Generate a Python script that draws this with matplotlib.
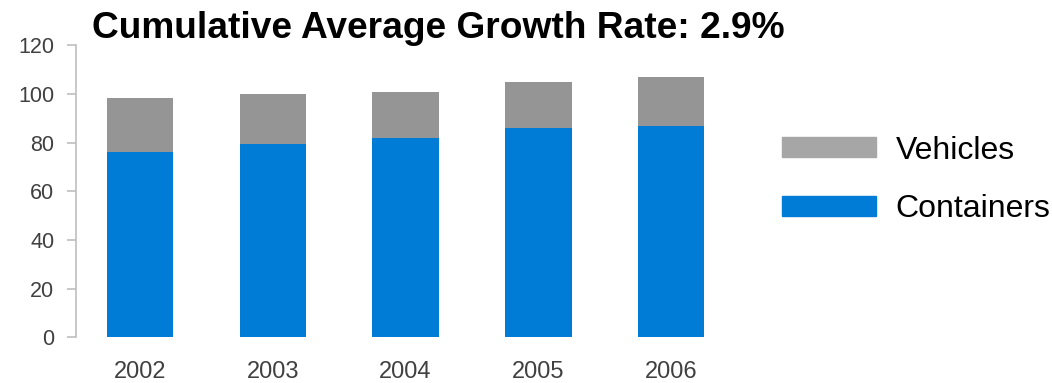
import matplotlib
matplotlib.use("Agg")
import matplotlib.pyplot as plt
from matplotlib.patches import Patch
import numpy as np

plt.rcParams['font.family'] = ['Liberation Sans', 'DejaVu Sans']

years = ['2002', '2003', '2004', '2005', '2006']
containers = [76.2, 79.5, 81.9, 86.0, 86.8]
vehicles = [22.0, 20.4, 18.8, 18.8, 19.9]

blue = '#007BD6'
gray_bar = '#959595'
gray_legend = '#A6A6A6'

fig = plt.figure(figsize=(10.52, 3.83), dpi=100)
ax = fig.add_axes([76 / 1052, 0.1188, 661.6 / 1052, 0.7637])

x = np.arange(len(years))
ax.bar(x, containers, width=0.5, color=blue)
ax.bar(x, vehicles, width=0.5, bottom=containers, color=gray_bar)

ax.set_xlim(-0.482, 4.5)
ax.set_ylim(0, 120)
ax.set_yticks(range(0, 121, 20))
ax.set_xticks(x)
ax.set_xticklabels(years)

for s in ['top', 'right', 'bottom']:
    ax.spines[s].set_visible(False)
ax.spines['left'].set_color('#BFBFBF')
ax.spines['left'].set_linewidth(1.2)
ax.tick_params(axis='y', length=6.5, width=1.2, color='#BFBFBF', labelsize=15.5,
               labelcolor='#404040', pad=9)
ax.tick_params(axis='x', length=0, labelsize=17, labelcolor='#404040', pad=17)

fig.text(92 / 1052, 1 - 38 / 383, 'Cumulative Average Growth Rate: 2.9%',
         fontsize=26.7, fontweight='bold', color='black', va='baseline')

handles = [Patch(color=gray_legend, label='Vehicles'),
           Patch(color=blue, label='Containers')]
fig.legend(handles=handles, loc='upper left', bbox_to_anchor=(782 / 1052, 0.646),
           frameon=False, fontsize=23, handlelength=2.95, handleheight=0.6,
           handletextpad=0.6, labelspacing=0.9, borderpad=0, borderaxespad=0)

fig.savefig('out.png', dpi=100)
